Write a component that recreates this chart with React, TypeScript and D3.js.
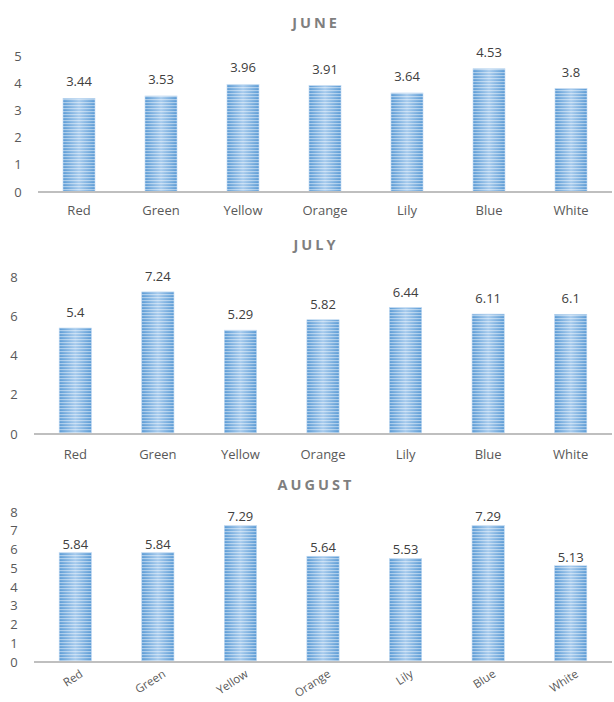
import React from "react";
import * as d3 from "d3";

const categories = ["Red", "Green", "Yellow", "Orange", "Lily", "Blue", "White"];
const juneValues = [3.44, 3.53, 3.96, 3.91, 3.64, 4.53, 3.8];
const julyValues = [5.4, 7.24, 5.29, 5.82, 6.44, 6.11, 6.1];
const augustValues = [5.84, 5.84, 7.29, 5.64, 5.53, 7.29, 5.13];
const juneTicks = [0, 1, 2, 3, 4, 5];
const julyTicks = [0, 2, 4, 6, 8];
const augustTicks = [0, 1, 2, 3, 4, 5, 6, 7, 8];

const FONT = "'Open Sans', 'Liberation Sans', sans-serif";
const TXT = "#595959";

type ChartProps = {
  id: string;
  title: string;
  values: number[];
  ticks: number[];
  titleY: number;
  x0: number;
  yTop: number;
  yBase: number;
  tickX: number;
  labelGap: number;
  catY: number;
  rotate: boolean;
};

function Chart(p: ChartProps) {
  const x = d3.scaleBand<string>().domain(categories).range([p.x0, 612]).paddingInner(0.61).paddingOuter(0.305);
  const maxT = p.ticks[p.ticks.length - 1];
  const y = d3.scaleLinear().domain([0, maxT]).range([p.yBase, p.yTop]);
  return (
    <g>
      <text x={316} y={p.titleY} textAnchor="middle" fontFamily={FONT} fontWeight={700} fontSize={14.5} fill="#7f7f7f" letterSpacing={3}>
        {p.title}
      </text>
      {p.ticks.map((t) => (
        <text key={t} x={p.tickX} y={y(t)} dy="0.35em" textAnchor="middle" fontFamily={FONT} fontSize={13} fill={TXT}>
          {t}
        </text>
      ))}
      {categories.map((c, i) => {
        const bx = x(c)!;
        const bw = x.bandwidth();
        const by = y(p.values[i]);
        const bh = p.yBase - by;
        return (
          <g key={c}>
            <rect x={bx} y={by} width={bw} height={bh} fill="url(#barGrad)" stroke="#bcd6f0" strokeWidth={0.6} />
            <rect x={bx} y={by} width={bw} height={bh} fill="url(#stripes)" />
            <text x={bx + bw / 2} y={by - p.labelGap} textAnchor="middle" fontFamily={FONT} fontSize={13} fill="#404040">
              {p.values[i]}
            </text>
          </g>
        );
      })}
      <line x1={p.x0} x2={612} y1={p.yBase} y2={p.yBase} stroke="#bfbfbf" strokeWidth={2} />
      {categories.map((c) => {
        const cx = x(c)! + x.bandwidth() / 2;
        return p.rotate ? (
          <text key={c} transform={`translate(${cx + 4},${p.catY}) rotate(-33)`} dy="0.71em" textAnchor="end" fontFamily={FONT} fontSize={11.5} fill={TXT}>
            {c}
          </text>
        ) : (
          <text key={c} x={cx} y={p.catY} dy="0.35em" textAnchor="middle" fontFamily={FONT} fontSize={13} fill={TXT}>
            {c}
          </text>
        );
      })}
    </g>
  );
}

export default function App() {
  return (
    <svg width={614} height={702} style={{ position: "absolute", left: 0, top: 0, background: "#fff" }}>
      <defs>
        <linearGradient id="barGrad" x1="0" x2="1" y1="0" y2="0">
          <stop offset="0" stopColor="#5b9bd5" />
          <stop offset="0.5" stopColor="#a7cbed" />
          <stop offset="1" stopColor="#5b9bd5" />
        </linearGradient>
        <pattern id="stripes" patternUnits="userSpaceOnUse" width={4} height={3}>
          <rect x={0} y={0} width={4} height={1.2} fill="#ffffff" fillOpacity={0.45} />
        </pattern>
      </defs>
      <Chart id="june" title="JUNE" values={juneValues} ticks={juneTicks} titleY={28} x0={38} yTop={56} yBase={192} tickX={18} labelGap={12} catY={210} rotate={false} />
      <Chart id="july" title="JULY" values={julyValues} ticks={julyTicks} titleY={250} x0={34} yTop={277} yBase={434} tickX={14} labelGap={11} catY={454} rotate={false} />
      <Chart id="aug" title="AUGUST" values={augustValues} ticks={augustTicks} titleY={490} x0={34} yTop={512} yBase={662} tickX={14} labelGap={4} catY={669} rotate={true} />
    </svg>
  );
}
